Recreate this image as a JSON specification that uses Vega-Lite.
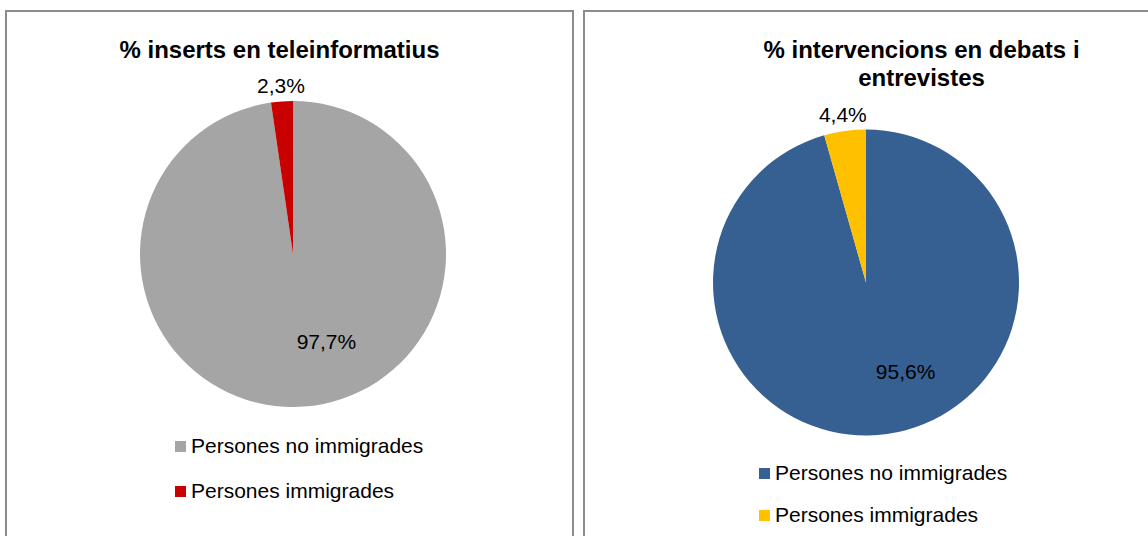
{
  "$schema": "https://vega.github.io/schema/vega-lite/v6.json",
  "padding": {"left": 5, "top": 10, "right": 0, "bottom": 0},
  "spacing": 9,
  "background": "white",
  "config": {
    "view": {"stroke": "#8c8c8c", "strokeWidth": 2},
    "font": "Liberation Sans",
    "title": {"font": "Liberation Sans", "fontSize": 24, "fontWeight": "bold", "color": "#000000", "anchor": "middle", "frame": "group", "offset": -52, "baseline": "alphabetic", "lineHeight": 28},
    "legend": {"labelFont": "Liberation Sans", "labelFontSize": 21, "labelColor": "#000000", "labelLimit": 400, "symbolType": "square", "symbolSize": 121, "symbolStrokeWidth": 0, "symbolOpacity": 1, "labelOffset": 0, "padding": 0, "orient": "none"}
  },
  "resolve": {"scale": {"color": "independent", "theta": "independent"}, "legend": {"color": "independent"}},
  "hconcat": [
    {
      "width": 567,
      "height": 540,
      "view": {"stroke": "#8c8c8c", "strokeWidth": 2},
      "title": {"text": "% inserts en teleinformatius", "dx": -10},
      "data": {"values": [
        {"grup": "Persones no immigrades", "pct": 97.7, "o": 1, "label": "97,7%"},
        {"grup": "Persones immigrades", "pct": 2.3, "o": 2, "label": "2,3%"}
      ]},
      "encoding": {
        "theta": {"field": "pct", "type": "quantitative", "stack": true},
        "order": {"field": "o", "type": "quantitative"}
      },
      "layer": [
        {
          "mark": {"type": "arc", "outerRadius": 153, "xOffset": 3.5, "yOffset": -27},
          "encoding": {
            "color": {"field": "grup", "type": "nominal", "title": null,
              "scale": {"domain": ["Persones no immigrades", "Persones immigrades"], "range": ["#A5A5A5", "#C80000"]},
              "legend": {"legendX": 164, "legendY": 425, "rowPadding": 23}}
          }
        },
        {
          "mark": {"type": "text", "radius": 167, "xOffset": 3.5, "yOffset": -27, "fontSize": 21, "color": "#000000", "baseline": "middle"},
          "encoding": {"text": {"condition": {"test": "datum.o == 2", "field": "label"}, "value": ""}}
        },
        {
          "mark": {"type": "text", "radius": 89, "xOffset": 3.5, "yOffset": -27, "dx": 27, "fontSize": 21, "color": "#000000", "baseline": "middle"},
          "encoding": {"text": {"condition": {"test": "datum.o == 1", "field": "label"}, "value": ""}}
        }
      ]
    },
    {
      "width": 567,
      "height": 540,
      "view": {"stroke": "#8c8c8c", "strokeWidth": 2},
      "title": {"text": ["% intervencions en debats i", "entrevistes"], "dx": 54, "dy": 28},
      "data": {"values": [
        {"grup": "Persones no immigrades", "pct": 95.6, "o": 1, "label": "95,6%"},
        {"grup": "Persones immigrades", "pct": 4.4, "o": 2, "label": "4,4%"}
      ]},
      "encoding": {
        "theta": {"field": "pct", "type": "quantitative", "stack": true},
        "order": {"field": "o", "type": "quantitative"}
      },
      "layer": [
        {
          "mark": {"type": "arc", "outerRadius": 153, "xOffset": -1.5, "yOffset": 1.5},
          "encoding": {
            "color": {"field": "grup", "type": "nominal", "title": null,
              "scale": {"domain": ["Persones no immigrades", "Persones immigrades"], "range": ["#376092", "#FFC000"]},
              "legend": {"legendX": 170, "legendY": 452, "rowPadding": 20}}
          }
        },
        {
          "mark": {"type": "text", "radius": 168, "xOffset": -1.5, "yOffset": 1.5, "fontSize": 21, "color": "#000000", "baseline": "middle"},
          "encoding": {"text": {"condition": {"test": "datum.o == 2", "field": "label"}, "value": ""}}
        },
        {
          "mark": {"type": "text", "radius": 91, "xOffset": -1.5, "yOffset": 1.5, "dx": 27, "fontSize": 21, "color": "#000000", "baseline": "middle"},
          "encoding": {"text": {"condition": {"test": "datum.o == 1", "field": "label"}, "value": ""}}
        }
      ]
    }
  ]
}
